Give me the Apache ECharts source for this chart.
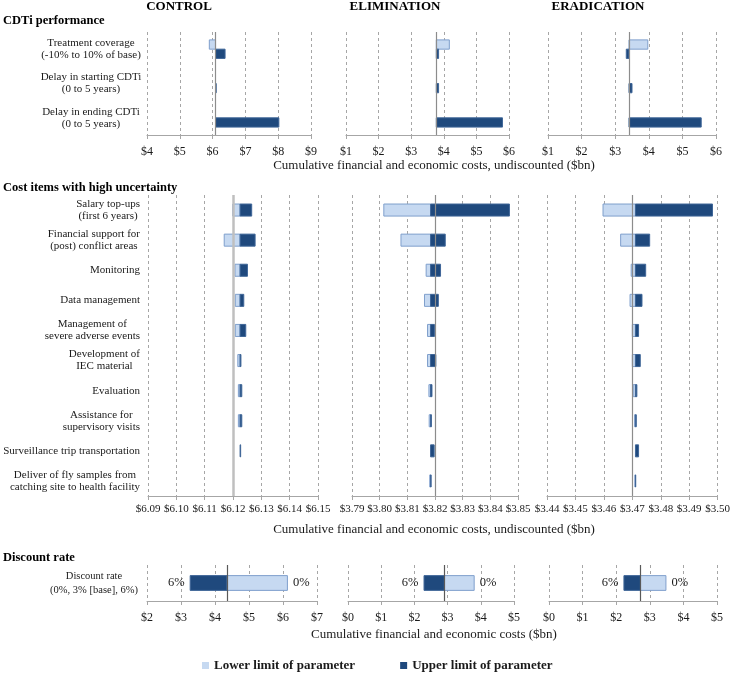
<!DOCTYPE html>
<html>
<head>
<meta charset="utf-8">
<script src="https://cdn.jsdelivr.net/npm/echarts@6/dist/echarts.min.js"></script>
<style>html,body{margin:0;padding:0;background:#fff}#chart{width:733px;height:675px}</style>
</head>
<body>
<div id="chart"></div>
<script>
// ---------- DATA ----------
const scenarios = ['CONTROL', 'ELIMINATION', 'ERADICATION'];
const sectionTitles = ['CDTi performance', 'Cost items with high uncertainty', 'Discount rate'];
const axisTitles = ['Cumulative financial and economic costs, undiscounted ($bn)',
                    'Cumulative financial and economic costs, undiscounted ($bn)',
                    'Cumulative financial and economic costs ($bn)'];
const legendNames = ['Lower limit of parameter', 'Upper limit of parameter'];

// CDTi performance
const topCategories = ['Treatment coverage\n(-10% to 10% of base)', 'Delay in starting CDTi\n(0 to 5 years)', 'Delay in ending CDTi\n(0 to 5 years)'];
const controlTopBase = 6.09;
const controlTopLower = [5.90, 6.09, 6.09];
const controlTopUpper = [6.38, 6.11, 8.02];
const elimTopBase = 3.77;
const elimTopLower = [4.17, 3.77, 3.77];
const elimTopUpper = [3.84, 3.84, 5.80];
const eradTopBase = 3.41;
const eradTopLower = [3.97, 3.41, 3.41];
const eradTopUpper = [3.33, 3.50, 5.56];
const controlTopTicks = [4, 9, 1];
const elimTopTicks = [1, 6, 1];
const eradTopTicks = [1, 6, 1];

// Cost items with high uncertainty
const costCategories = ['Salary top-ups\n(first 6 years)', 'Financial support for\n(post) conflict areas', 'Monitoring', 'Data management',
  'Management of\nsevere adverse events', 'Development of\nIEC material', 'Evaluation', 'Assistance for\nsupervisory visits',
  'Surveillance trip transportation', 'Deliver of fly samples from\ncatching site to health facility'];
const controlCostBase = 6.1225;
const controlCostLower = [6.1199, 6.1169, 6.1207, 6.1208, 6.1208, 6.1217, 6.1219, 6.1219, 6.1225, 6.1225];
const controlCostUpper = [6.1266, 6.1278, 6.1251, 6.1238, 6.1245, 6.1228, 6.1231, 6.1231, 6.1227, 6.1225];
const elimCostBase = 3.8184;
const elimCostLower = [3.8015, 3.8077, 3.8168, 3.8162, 3.8173, 3.8173, 3.8178, 3.8179, 3.8184, 3.8181];
const elimCostUpper = [3.8469, 3.8237, 3.8220, 3.8212, 3.8198, 3.8203, 3.8189, 3.8187, 3.8197, 3.8186];
const eradCostBase = 3.4711;
const eradCostLower = [3.4597, 3.4659, 3.4696, 3.4692, 3.4700, 3.4700, 3.4703, 3.4708, 3.4711, 3.4709];
const eradCostUpper = [3.4982, 3.4761, 3.4747, 3.4734, 3.4722, 3.4728, 3.4716, 3.4714, 3.4722, 3.4712];
const controlCostTicks = [6.09, 6.15, 0.01];
const elimCostTicks = [3.79, 3.85, 0.01];
const eradCostTicks = [3.44, 3.50, 0.01];

// Discount rate
const discountCategories = ['Discount rate\n(0%, 3% [base], 6%)'];
const discountLowerLabel = '0%';
const discountUpperLabel = '6%';
const controlDiscBase = 4.35;
const controlDiscLower = [6.13];
const controlDiscUpper = [3.27];
const elimDiscBase = 2.90;
const elimDiscLower = [3.80];
const elimDiscUpper = [2.29];
const eradDiscBase = 2.72;
const eradDiscLower = [3.48];
const eradDiscUpper = [2.23];
const controlDiscTicks = [2, 7, 1];
const elimDiscTicks = [0, 5, 1];
const eradDiscTicks = [0, 5, 1];

// ---------- LAYOUT / STYLE ----------
const SERIF = '"Liberation Serif", "Times New Roman", serif';
const LIGHT = '#c6d9f1', LIGHT_BORDER = '#7f9fcc';
const DARK = '#1f497d', DARK_BORDER = '#3f6698';

const panels = [
  {sec:0, grid:{left:147, top:32, width:164, height:103}, ticks:controlTopTicks, cats:topCategories, base:controlTopBase, lower:controlTopLower, upper:controlTopUpper, dec:0, showCats:true},
  {sec:0, grid:{left:346, top:32, width:163, height:103}, ticks:elimTopTicks, cats:topCategories, base:elimTopBase, lower:elimTopLower, upper:elimTopUpper, dec:0},
  {sec:0, grid:{left:548, top:32, width:168, height:103}, ticks:eradTopTicks, cats:topCategories, base:eradTopBase, lower:eradTopLower, upper:eradTopUpper, dec:0},
  {sec:1, grid:{left:148, top:195, width:170, height:301}, ticks:controlCostTicks, cats:costCategories, base:controlCostBase, lower:controlCostLower, upper:controlCostUpper, dec:2, showCats:true},
  {sec:1, grid:{left:352, top:195, width:166, height:301}, ticks:elimCostTicks, cats:costCategories, base:elimCostBase, lower:elimCostLower, upper:elimCostUpper, dec:2},
  {sec:1, grid:{left:547, top:195, width:172, height:301}, ticks:eradCostTicks, cats:costCategories, base:eradCostBase, lower:eradCostLower, upper:eradCostUpper, dec:2},
  {sec:2, grid:{left:147, top:565, width:170, height:36}, ticks:controlDiscTicks, cats:discountCategories, base:controlDiscBase, lower:controlDiscLower, upper:controlDiscUpper, dec:0, showCats:true},
  {sec:2, grid:{left:348, top:565, width:166, height:36}, ticks:elimDiscTicks, cats:discountCategories, base:elimDiscBase, lower:elimDiscLower, upper:elimDiscUpper, dec:0},
  {sec:2, grid:{left:549, top:565, width:168, height:36}, ticks:eradDiscTicks, cats:discountCategories, base:eradDiscBase, lower:eradDiscLower, upper:eradDiscUpper, dec:0}
];

const grids = [], xAxes = [], yAxes = [], series = [];

function makeRender(p, which) {
  return function (params, api) {
    const cat = api.value(0), a = api.value(1), b = api.value(2);
    const p1 = api.coord([a, cat]);
    const p2 = api.coord([b, cat]);
    const band = api.size([0, 1])[1];
    let h, y;
    if (p.sec === 0) {
      h = band * 0.27;
      y = which === 0 ? p1[1] - h : p1[1];
    } else if (p.sec === 1) {
      h = band * 0.40; y = p1[1] - h / 2;
    } else {
      h = band * 0.41; y = p1[1] - h / 2;
    }
    const x = Math.min(p1[0], p2[0]);
    const w = Math.abs(p2[0] - p1[0]);
    if (w < 0.2) return null;
    const el = {
      type: 'rect',
      shape: {x: x, y: y, width: w, height: h},
      style: {fill: which === 0 ? LIGHT : DARK, stroke: which === 0 ? LIGHT_BORDER : DARK_BORDER, lineWidth: 1}
    };
    if (p.sec === 2) {
      el.textContent = {type: 'text', style: {text: which === 0 ? discountLowerLabel : discountUpperLabel, font: '12.5px ' + SERIF, fill: '#1a1a1a'}};
      el.textConfig = {position: which === 0 ? 'right' : 'left', distance: 5};
    }
    return el;
  };
}

panels.forEach((p, i) => {
  grids.push(Object.assign({containLabel: false}, p.grid));
  const tickFont = p.sec === 1 ? 11 : 12;
  xAxes.push({
    type: 'value', gridIndex: i, min: p.ticks[0], max: p.ticks[1], interval: p.ticks[2],
    axisLine: {show: true, lineStyle: {color: '#a6a6a6', width: 1}},
    axisTick: {show: true, length: 4, lineStyle: {color: '#a6a6a6'}},
    splitLine: {show: true, showMinLine: true, showMaxLine: true, lineStyle: {color: '#a6a6a6', type: [3, 3], width: 1}},
    axisLabel: {
      show: true, margin: p.sec === 1 ? 8 : 11, fontFamily: SERIF, fontSize: tickFont, color: '#1a1a1a',
      formatter: v => '$' + (p.dec ? v.toFixed(p.dec) : Math.round(v))
    }
  });
  const y = {
    type: 'category', gridIndex: i, data: p.cats, inverse: true,
    axisLine: {show: false}, axisTick: {show: false}, splitLine: {show: false},
    axisLabel: {show: !!p.showCats, fontFamily: SERIF, color: '#1a1a1a'}
  };
  if (p.sec === 0) {
    Object.assign(y.axisLabel, {align: 'center', margin: 56, fontSize: 11, lineHeight: 12});
  } else if (p.sec === 1) {
    Object.assign(y.axisLabel, {
      align: 'right', margin: 8, fontSize: 11, lineHeight: 12,
      formatter: v => v.split('\n').map(s => '{c|' + s + '}').join('\n'),
      rich: {c: {align: 'center', fontFamily: SERIF, fontSize: 11, lineHeight: 12, color: '#1a1a1a'}}
    });
  } else {
    Object.assign(y.axisLabel, {align: 'center', margin: 53, fontSize: 10.5, lineHeight: 14});
  }
  yAxes.push(y);

  const lowData = p.lower.map((v, k) => [k, Math.min(v, p.base), Math.max(v, p.base)]);
  const upData = p.upper.map((v, k) => [k, Math.min(v, p.base), Math.max(v, p.base)]);
  const baseColor = p.sec === 1 && i === 3 ? '#bfbfbf' : (p.sec === 2 ? '#595959' : '#8c8c8c');
  const baseWidth = p.sec === 1 && i === 3 ? 2.5 : 1.2;
  series.push({
    name: legendNames[0], type: 'custom', xAxisIndex: i, yAxisIndex: i,
    itemStyle: {color: LIGHT}, encode: {x: [1, 2], y: 0},
    renderItem: makeRender(p, 0), data: lowData, z: 2,
    markLine: {silent: true, symbol: 'none', label: {show: false}, z: 5,
      lineStyle: {color: baseColor, width: baseWidth, type: 'solid'}, data: [{xAxis: p.base}]}
  });
  series.push({
    name: legendNames[1], type: 'custom', xAxisIndex: i, yAxisIndex: i,
    itemStyle: {color: DARK}, encode: {x: [1, 2], y: 0},
    renderItem: makeRender(p, 1), data: upData, z: 3
  });
});

const centers = [179, 395, 598];
const graphics = [];
scenarios.forEach((s, k) => graphics.push({type: 'text', x: centers[k], y: 7, style: {text: s, font: 'bold 13px ' + SERIF, fill: '#000', textAlign: 'center', textVerticalAlign: 'middle'}}));
const secY = [20.5, 188, 558];
sectionTitles.forEach((s, k) => graphics.push({type: 'text', x: 3, y: secY[k], style: {text: s, font: 'bold 12.5px ' + SERIF, fill: '#000', textAlign: 'left', textVerticalAlign: 'middle'}}));
const axY = [166, 530, 635];
axisTitles.forEach((s, k) => graphics.push({type: 'text', x: 434, y: axY[k], style: {text: s, font: '13px ' + SERIF, fill: '#1a1a1a', textAlign: 'center', textVerticalAlign: 'middle'}}));

const option = {
  backgroundColor: '#fff',
  animation: false,
  grid: grids, xAxis: xAxes, yAxis: yAxes, series: series,
  legend: {
    data: legendNames.map(n => ({name: n, icon: 'rect'})),
    left: 202, top: 659, itemWidth: 7, itemHeight: 7, itemGap: 45, padding: 0,
    textStyle: {fontFamily: SERIF, fontSize: 13, fontWeight: 'bold', color: '#1a1a1a'},
    selectedMode: false
  },
  graphic: graphics
};
const chart = echarts.init(document.getElementById('chart'), null, {renderer: 'canvas'});
chart.setOption(option);
</script>
</body>
</html>
